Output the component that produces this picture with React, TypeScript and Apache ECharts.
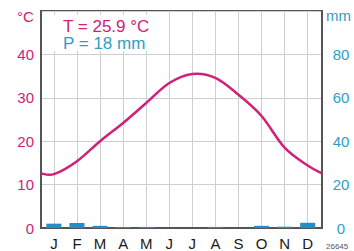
import React, { useEffect, useRef } from "react";
import * as echarts from "echarts";

const months = ["J", "F", "M", "A", "M", "J", "J", "A", "S", "O", "N", "D"];
const temperature = [12.4, 15.4, 20.0, 24.2, 28.8, 33.4, 35.5, 34.6, 30.7, 25.8, 18.5, 14.4];
const tempAtLeftEdge = 12.6;
const tempAtRightEdge = 12.6;
const precipitation = [2, 2.3, 1, 0.5, 0.5, 0, 0, 0.5, 0, 1, 0.6, 2.4];
const tempTicks = [0, 10, 20, 30, 40];
const precTicks = [0, 20, 40, 60, 80];
const titleT = "T = 25.9 °C";
const titleP = "P = 18 mm";

const X_MIN = -0.56;
const X_MAX = 11.62;

const MAGENTA = "#d0217a";
const TEAL = "#2e9ec6";
const BAR = "#1f8ec9";
const FONT = "Liberation Sans, Arial, sans-serif";

export default function App() {
  const ref = useRef<HTMLDivElement>(null);
  useEffect(() => {
    if (!ref.current) return;
    const chart = echarts.init(ref.current, null, { renderer: "svg" });
    const idx = months.map((_, i) => i);
    const lineData: number[][] = [[X_MIN, tempAtLeftEdge]];
    temperature.forEach((t, i) => lineData.push([i, t]));
    lineData.push([X_MAX, tempAtRightEdge]);

    const renderCurve = (params: any, api: any) => {
      if (params.dataIndex !== 0) return null;
      const pts = lineData.map((d) => api.coord(d));
      const n = pts.length;
      let d = `M${pts[0][0]},${pts[0][1]}`;
      for (let i = 0; i < n - 1; i++) {
        const p0 = pts[Math.max(0, i - 1)];
        const p1 = pts[i];
        const p2 = pts[i + 1];
        const p3 = pts[Math.min(n - 1, i + 2)];
        const c1x = p1[0] + (p2[0] - p0[0]) / 6;
        const c1y = p1[1] + (p2[1] - p0[1]) / 6;
        const c2x = p2[0] - (p3[0] - p1[0]) / 6;
        const c2y = p2[1] - (p3[1] - p1[1]) / 6;
        d += ` C${c1x},${c1y} ${c2x},${c2y} ${p2[0]},${p2[1]}`;
      }
      return {
        type: "path",
        shape: { pathData: d },
        style: { fill: "none", stroke: MAGENTA, lineWidth: 2.5 },
      };
    };

    chart.setOption({
      animation: false,
      textStyle: { fontFamily: FONT },
      grid: {
        left: 41,
        right: 32,
        top: 11,
        bottom: 22,
        show: true,
        borderColor: "#555",
        borderWidth: 2,
      },
      xAxis: {
        type: "value",
        min: X_MIN,
        max: X_MAX,
        axisLine: { show: true, onZero: false, lineStyle: { color: "#555", width: 2 } },
        axisTick: { show: false, customValues: idx },
        axisLabel: {
          customValues: idx,
          formatter: (v: number) => months[Math.round(v)] ?? "",
          color: "#1a1a1a",
          fontSize: 15,
          margin: 8,
        },
        splitLine: { show: true, lineStyle: { color: "#cfcfcf", width: 1 } },
      },
      yAxis: [
        {
          type: "value",
          min: 0,
          max: 50,
          interval: 10,
          axisLine: { show: true, onZero: false, lineStyle: { color: "#555", width: 2 } },
          axisTick: { show: false },
          axisLabel: {
            color: MAGENTA,
            fontSize: 15,
            margin: 7,
            formatter: (v: number) => (tempTicks.includes(v) ? String(v) : ""),
          },
          splitLine: { show: true, lineStyle: { color: "#cfcfcf", width: 1 } },
        },
        {
          type: "value",
          min: 0,
          max: 100,
          interval: 20,
          position: "right",
          axisLine: { show: true, onZero: false, lineStyle: { color: "#555", width: 2 } },
          axisTick: { show: false },
          axisLabel: {
            color: TEAL,
            fontSize: 15,
            margin: 19,
            align: "center",
            formatter: (v: number) => (precTicks.includes(v) ? String(v) : ""),
          },
          splitLine: { show: false },
        },
      ],
      series: [
        {
          type: "bar",
          yAxisIndex: 1,
          barWidth: 15,
          itemStyle: { color: BAR },
          data: precipitation.map((p, i) => [i, p]),
        },
        {
          type: "custom",
          yAxisIndex: 0,
          renderItem: renderCurve,
          data: lineData,
          encode: { x: 0, y: 1 },
          z: 5,
          silent: true,
        },
      ],
      graphic: [
        {
          type: "rect",
          left: 42,
          top: 15,
          shape: { width: 118, height: 36 },
          style: { fill: "#fff" },
          z: 10,
        },
        {
          type: "text",
          left: 17,
          top: 9,
          style: { text: "°C", fill: MAGENTA, fontSize: 15, fontFamily: FONT },
        },
        {
          type: "text",
          left: 326,
          top: 8,
          style: { text: "mm", fill: TEAL, fontSize: 15, fontFamily: FONT },
        },
        {
          type: "text",
          left: 63,
          top: 17.5,
          z: 11,
          style: { text: titleT, fill: MAGENTA, fontSize: 17, fontFamily: FONT },
        },
        {
          type: "text",
          left: 63,
          top: 34.6,
          z: 11,
          style: { text: titleP, fill: TEAL, fontSize: 17, fontFamily: FONT },
        },
        {
          type: "text",
          left: 326,
          top: 242,
          style: { text: "26645", fill: "#555", fontSize: 8, fontFamily: FONT },
        },
      ],
    });
    return () => chart.dispose();
  }, []);
  return (
    <div
      ref={ref}
      style={{ position: "fixed", left: 0, top: 0, width: 354, height: 251, background: "#fff" }}
    />
  );
}
